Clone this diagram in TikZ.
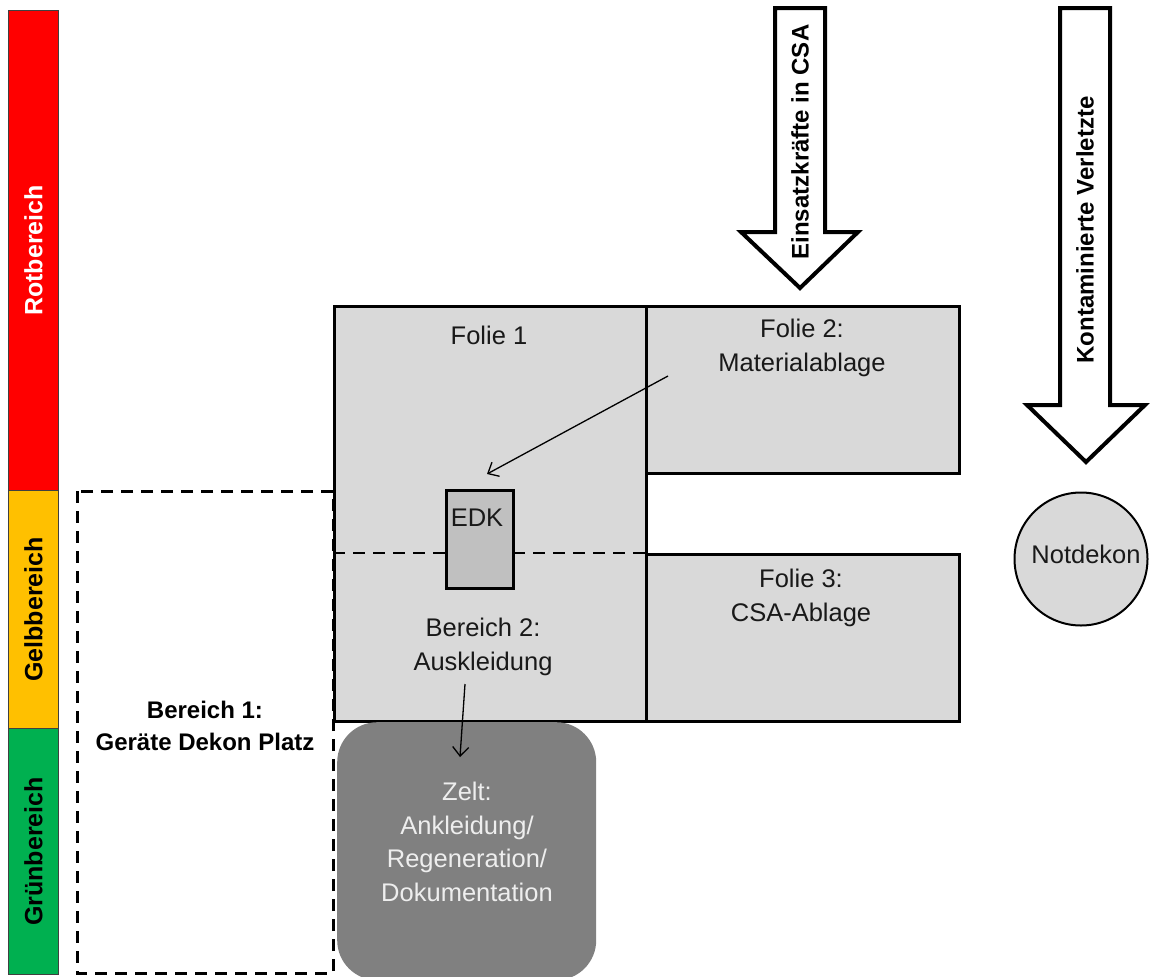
\documentclass[tikz,border=0pt]{standalone}
\usepackage{fontspec}
\setmainfont{Liberation Sans}
\usetikzlibrary{arrows.meta}

\definecolor{zoneRed}{HTML}{FF0000}
\definecolor{zoneYellow}{HTML}{FFC000}
\definecolor{zoneGreen}{HTML}{00B050}
\definecolor{foil}{HTML}{D9D9D9}
\definecolor{edkfill}{HTML}{C0C0C0}
\definecolor{tent}{HTML}{808080}
\definecolor{tenttext}{HTML}{EEEEEE}

\tikzset{
  zonebar/.style={draw=black!75, line width=0.8pt, anchor=north west, inner sep=0pt, minimum width=50},
  zonetext/.style={font=\bfseries\fontsize{25}{30}\selectfont, rotate=90},
  foilbox/.style={draw=black, fill=foil, line width=3pt, anchor=north west, inner sep=0pt},
  regtext/.style={font=\fontsize{25.5}{34}\selectfont, text=black!90, align=center, inner sep=0pt},
  boldtext/.style={font=\bfseries\fontsize{24}{32}\selectfont, align=center, inner sep=0pt},
  flowarrow/.style={draw=black, fill=white, line width=4pt, line join=miter},
  thinarrow/.style={-{Straight Barb[length=9pt,width=16pt,line width=1.3pt]}, line width=1.3pt},
  zonedash/.style={line width=3pt, dash pattern=on 12pt off 8pt}
}

\begin{document}
\begin{tikzpicture}[x=1pt,y=-1pt]
\useasboundingbox (0,0) rectangle (1151,977);

% zone bar on the left
\node[zonebar, fill=zoneRed,    minimum height=480] (rot)  at (8,10)  {};
\node[zonebar, fill=zoneYellow, minimum height=238] (gelb) at (8,490) {};
\node[zonebar, fill=zoneGreen,  minimum height=246] (gruen) at (8,728) {};
\node[zonetext, text=white] at (rot.center)   {Rotbereich};
\node[zonetext, text=black] at (gelb.center)  {Gelbbereich};
\node[zonetext, text=black] at (gruen.center) {Grünbereich};

% area 1: equipment decontamination (dashed)
\draw[zonedash] (77,491) rectangle (333,973);
\node[boldtext] (bereich1) at (205,726) {Bereich 1:\\Geräte Dekon Platz};

% foils
\node[foilbox, minimum width=312, minimum height=415] (folie1) at (333,305) {};
\node[foilbox, minimum width=313, minimum height=167] (folie2) at (645,305) {};
\node[foilbox, minimum width=313, minimum height=167] (folie3) at (645,553) {};
\draw[zonedash, line width=2.4pt] (folie1.west |- folie3.north) -- (folie3.north west);

% decontamination box
\node[draw=black, fill=edkfill, line width=3pt, anchor=north west, inner sep=0pt,
      minimum width=67, minimum height=98] (edk) at (445,489) {};
\node[regtext] at (477,518) {EDK};

% labels inside foils
\node[regtext] (f1text) at (489,335) {Folie 1};
\node[regtext] (f2text) at (802,348) {Folie 2:\\Materialablage};
\node[regtext] (f3text) at (801,598) {Folie 3:\\CSA-Ablage};
\node[regtext] (b2text) at (483,647) {Bereich 2:\\Auskleidung};

% tent
\node[fill=tent, rounded corners=40pt, anchor=north west, inner sep=0pt,
      minimum width=259, minimum height=258] (zelt) at (337,722) {};
\node[regtext, text=tenttext, font=\fontsize{25.5}{33.7}\selectfont] at (467,842)
  {Zelt:\\Ankleidung/\\Regeneration/\\Dokumentation};

% emergency decontamination
\node[circle, draw=black, fill=foil, line width=2pt, minimum size=133, inner sep=0pt]
  (notdekon) at (1081,559) {};
\node[regtext] at (1086,554) {Notdekon};

% material flow and dressing flow
\coordinate (matstart) at (668,376);
\coordinate (matend)   at (487,474);
\draw[thinarrow] (matstart) -- (matend);
\coordinate (auskstart) at (465,684);
\coordinate (zeltend)   at (460,757);
\draw[thinarrow] (auskstart) -- (zeltend);

% entry arrows
\draw[flowarrow] (775,8) -- (825,8) -- (825,232) -- (858,232) -- (800,288)
  -- (741,232) -- (775,232) -- cycle;
\node[boldtext, rotate=90] (csa) at (800,142) {Einsatzkräfte in CSA};
\draw[flowarrow] (1060,8) -- (1110,8) -- (1110,405) -- (1145,405) -- (1086,462)
  -- (1027,405) -- (1060,405) -- cycle;
\node[boldtext, rotate=90] (verletzte) at (1085,230) {Kontaminierte Verletzte};
\end{tikzpicture}
\end{document}
